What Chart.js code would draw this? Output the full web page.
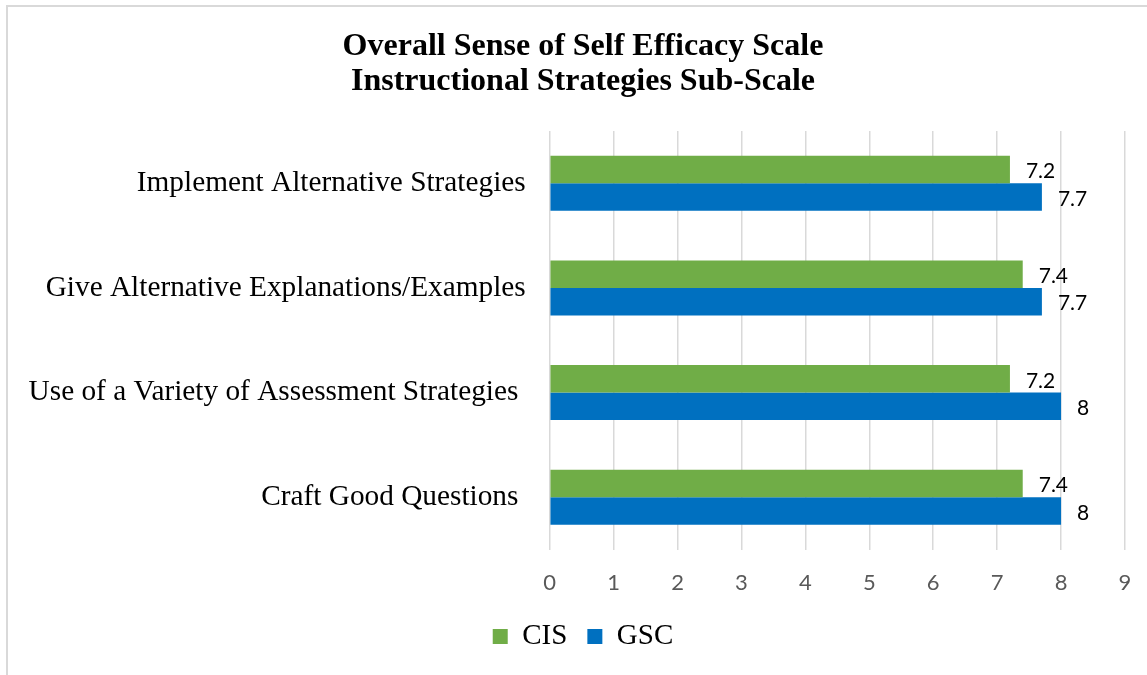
<!DOCTYPE html>
<html>
<head>
<meta charset="utf-8">
<script src="https://cdn.jsdelivr.net/npm/chart.js@4.4.0/dist/chart.umd.min.js"></script>
<style>
  html, body { margin: 0; padding: 0; background: #fff; }
  #frame {
    position: absolute; left: 6px; top: 5px; width: 1200px; height: 700px;
    border-left: 2px solid #d9d9d9; border-top: 2px solid #d9d9d9;
  }
  #wrap { position: absolute; left: 0; top: 0; width: 1147px; height: 675px; }
</style>
</head>
<body>
<div id="frame"></div>
<div id="wrap"><canvas id="myChart" width="1147" height="675"></canvas></div>
<script>
const categories = [
  "Implement Alternative Strategies",
  "Give Alternative Explanations/Examples",
  "Use of a Variety of Assessment Strategies ",
  "Craft Good Questions ",
];
const cisValues = [7.2, 7.4, 7.2, 7.4];
const gscValues = [7.7, 7.7, 8, 8];
const titleLines = ["Overall Sense of Self Efficacy Scale", "Instructional Strategies Sub-Scale"];

// value labels just to the right of each bar
const barLabels = {
  id: "barLabels",
  afterDatasetsDraw(chart) {
    const ctx = chart.ctx;
    ctx.save();
    ctx.font = "21px Lato";
    ctx.fillStyle = "#000";
    ctx.textAlign = "left";
    ctx.textBaseline = "middle";
    chart.data.datasets.forEach((ds, i) => {
      chart.getDatasetMeta(i).data.forEach((bar, j) => {
        ctx.fillText(String(ds.data[j]), bar.x + 16, bar.y + 2);
      });
    });
    ctx.restore();
  },
};

// long category names run past the left padding, so widen the label clip
const wideLabels = {
  id: "wideLabels",
  afterLayout(chart) {
    chart.scales.y.left = 0;
  },
};

const ctx = document.getElementById("myChart");

new Chart(ctx, {
  type: "bar",
  data: {
    labels: categories,
    datasets: [
      {
        label: "CIS",
        data: cisValues,
        backgroundColor: "#70AD47",
      },
      {
        label: "GSC",
        data: gscValues,
        backgroundColor: "#0070C0",
      },
    ],
  },
  plugins: [barLabels, wideLabels],
  options: {
    indexAxis: "y",
    responsive: false,
    animation: false,
    categoryPercentage: 0.525,
    barPercentage: 1,
    layout: {
      padding: { left: 41, right: 22, top: 0, bottom: 14 },
    },
    scales: {
      x: {
        min: 0,
        max: 9,
        ticks: {
          stepSize: 1,
          color: "#595959",
          font: { family: "Lato", size: 22 },
          padding: 20,
        },
        grid: { color: "#d9d9d9", lineWidth: 1.5, drawTicks: false },
        border: { display: false },
        afterFit(scale) {
          scale.height = 52.5;
          scale.paddingLeft = 0;
          scale.paddingRight = 0;
        },
      },
      y: {
        ticks: {
          color: "#000",
          font: { family: "Liberation Serif", size: 29.3 },
          padding: 24,
        },
        grid: { display: false, drawTicks: false },
        border: { display: false },
        afterFit(scale) {
          scale.width = 549.7 - 41;
        },
      },
    },
    plugins: {
      title: {
        display: true,
        text: titleLines,
        color: "#000",
        font: { family: "Liberation Serif", size: 32, weight: "bold", lineHeight: 1.094 },
        padding: { top: 29, bottom: 32 },
      },
      legend: {
        position: "bottom",
        labels: {
          color: "#000",
          boxWidth: 15,
          boxHeight: 15,
          padding: 20,
          font: { family: "Liberation Serif", size: 29 },
        },
      },
      tooltip: { enabled: false },
    },
  },
});
</script>
</body>
</html>
